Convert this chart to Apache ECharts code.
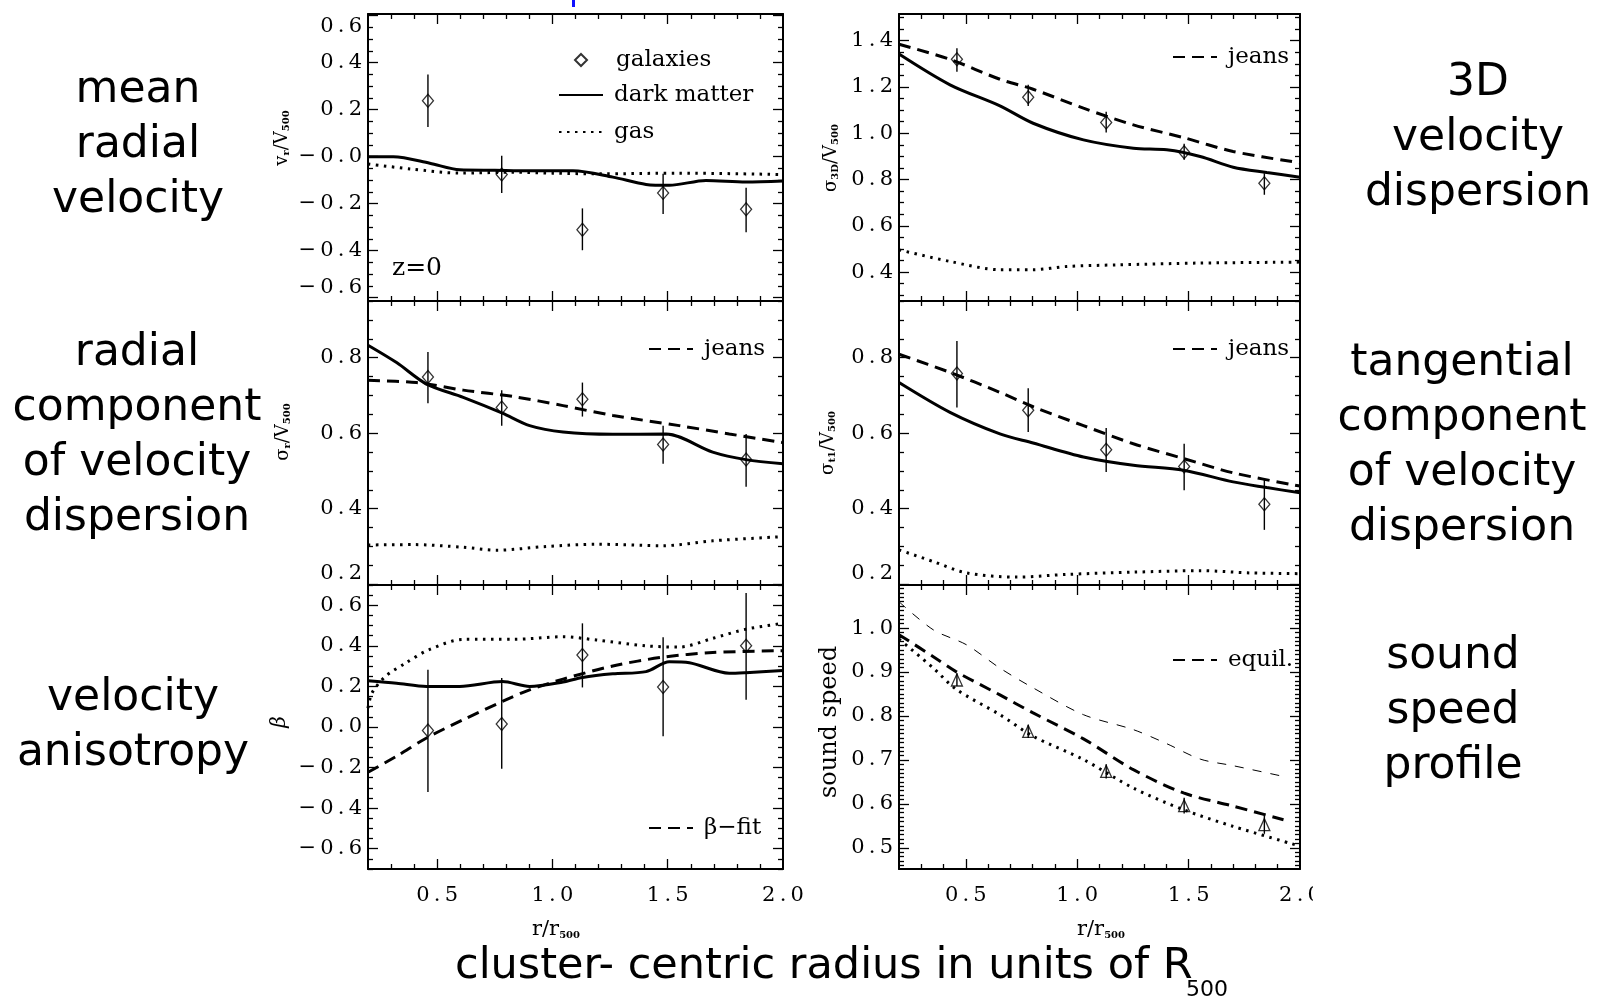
<!DOCTYPE html>
<html><head><meta charset="utf-8">
<script src="https://cdn.jsdelivr.net/npm/echarts@6/dist/echarts.min.js"></script>
<style>html,body{margin:0;padding:0;background:#fff}#c{width:1599px;height:1005px}</style>
</head><body><div id="c"></div>
<script>
// ---------------- DATA ----------------
const xGal = [0.46, 0.78, 1.13, 1.48, 1.84];
const xTickVals = [0.5, 1.0, 1.5, 2.0];
const xTickLabels = ['0.5', '1.0', '1.5', '2.0'];

// mean radial velocity (top-left)
const tlTickVals = [-0.6, -0.4, -0.2, 0, 0.2, 0.4, 0.6];
const tlTickLabels = ['\u22120.6', '\u22120.4', '\u22120.2', '\u22120.0', '0.2', '0.4', '0.6'];
const galVr = [0.238, -0.076, -0.311, -0.154, -0.224];
const galVrLo = [0.126, -0.154, -0.398, -0.244, -0.322];
const galVrHi = [0.35, 0.004, -0.22, -0.073, -0.132];
const dmVrX = [0.2, 0.31, 0.468, 0.598, 0.75, 0.9, 1.089, 1.262, 1.406, 1.507, 1.666, 1.839, 2.0];
const dmVr = [0.0, 0.0, -0.028, -0.056, -0.058, -0.06, -0.06, -0.087, -0.118, -0.122, -0.101, -0.108, -0.104];
const gasVrX = [0.2, 0.383, 0.598, 0.83, 1.0, 1.2, 1.55, 2.0];
const gasVr = [-0.031, -0.052, -0.07, -0.066, -0.07, -0.073, -0.07, -0.076];

// 3D velocity dispersion (top-right)
const trTickVals = [0.4, 0.6, 0.8, 1.0, 1.2, 1.4];
const trTickLabels = ['0.4', '0.6', '0.8', '1.0', '1.2', '1.4'];
const gal3D = [1.319, 1.155, 1.046, 0.918, 0.784];
const gal3DLo = [1.266, 1.118, 1.003, 0.885, 0.734];
const gal3DHi = [1.367, 1.209, 1.093, 0.954, 0.827];
const dm3DX = [0.2, 0.429, 0.653, 0.802, 1.028, 1.252, 1.402, 1.552, 1.70, 1.851, 2.0];
const dm3D = [1.342, 1.209, 1.118, 1.043, 0.971, 0.935, 0.928, 0.899, 0.853, 0.83, 0.81];
const jeans3DX = [0.2, 0.429, 0.653, 0.802, 1.028, 1.252, 1.477, 1.70, 2.0];
const jeans3D = [1.384, 1.319, 1.233, 1.19, 1.108, 1.036, 0.981, 0.921, 0.872];
const gas3DX = [0.2, 0.429, 0.653, 0.802, 0.952, 1.177, 1.552, 2.0];
const gas3D = [0.496, 0.446, 0.41, 0.41, 0.424, 0.431, 0.439, 0.443];

// radial component (middle-left)
const mTickVals = [0.2, 0.4, 0.6, 0.8];
const mTickLabels = ['0.2', '0.4', '0.6', '0.8'];
const galR = [0.749, 0.668, 0.69, 0.57, 0.53];
const galRLo = [0.679, 0.62, 0.644, 0.519, 0.458];
const galRHi = [0.815, 0.714, 0.734, 0.62, 0.598];
const dmRX = [0.2, 0.324, 0.454, 0.613, 0.783, 0.901, 1.046, 1.262, 1.493, 1.695, 1.839, 2.0];
const dmR = [0.833, 0.787, 0.73, 0.695, 0.653, 0.62, 0.603, 0.597, 0.598, 0.55, 0.53, 0.519];
const jeansRX = [0.2, 0.41, 0.613, 0.83, 1.046, 1.262, 1.55, 1.767, 2.0];
const jeansR = [0.74, 0.734, 0.714, 0.697, 0.673, 0.647, 0.62, 0.598, 0.575];
const gasRX = [0.2, 0.395, 0.613, 0.757, 0.973, 1.19, 1.478, 1.695, 2.0];
const gasR = [0.304, 0.305, 0.298, 0.29, 0.3, 0.306, 0.302, 0.315, 0.326];

// tangential component (middle-right)
const galT = [0.758, 0.661, 0.556, 0.512, 0.412];
const galTLo = [0.668, 0.603, 0.497, 0.449, 0.344];
const galTHi = [0.844, 0.719, 0.614, 0.572, 0.48];
const dmTX = [0.2, 0.429, 0.653, 0.802, 1.028, 1.252, 1.477, 1.70, 1.851, 2.0];
const dmT = [0.734, 0.655, 0.598, 0.574, 0.537, 0.515, 0.502, 0.471, 0.456, 0.442];
const jeansTX = [0.2, 0.429, 0.653, 0.802, 1.028, 1.252, 1.477, 1.70, 2.0];
const jeansT = [0.809, 0.761, 0.708, 0.67, 0.62, 0.572, 0.533, 0.495, 0.46];
const gasTX = [0.2, 0.354, 0.503, 0.728, 0.952, 1.252, 1.552, 1.777, 2.0];
const gasT = [0.291, 0.26, 0.23, 0.219, 0.226, 0.232, 0.236, 0.23, 0.228];

// velocity anisotropy (bottom-left)
const blTickVals = [-0.6, -0.4, -0.2, 0, 0.2, 0.4, 0.6];
const blTickLabels = ['\u22120.6', '\u22120.4', '\u22120.2', '0.0', '0.2', '0.4', '0.6'];
const galB = [-0.017, 0.015, 0.355, 0.197, 0.4];
const galBLo = [-0.321, -0.206, 0.195, -0.046, 0.134];
const galBHi = [0.282, 0.241, 0.511, 0.442, 0.661];
const dmBX = [0.2, 0.324, 0.454, 0.598, 0.783, 0.901, 1.046, 1.13, 1.262, 1.406, 1.507, 1.594, 1.767, 1.839, 2.0];
const dmB = [0.228, 0.216, 0.2, 0.2, 0.224, 0.2, 0.222, 0.244, 0.262, 0.273, 0.322, 0.317, 0.265, 0.268, 0.278];
const fitBX = [0.2, 0.324, 0.454, 0.613, 0.783, 0.901, 1.046, 1.262, 1.478, 1.695, 2.0];
const fitB = [-0.223, -0.144, -0.054, 0.036, 0.126, 0.183, 0.236, 0.301, 0.344, 0.367, 0.376];
const gasBX = [0.2, 0.217, 0.275, 0.362, 0.463, 0.613, 0.83, 1.046, 1.19, 1.406, 1.55, 1.695, 1.839, 2.0];
const gasB = [0.093, 0.167, 0.249, 0.314, 0.38, 0.432, 0.432, 0.445, 0.429, 0.4, 0.394, 0.437, 0.482, 0.511];

// sound speed profile (bottom-right)
const brTickVals = [0.5, 0.6, 0.7, 0.8, 0.9, 1.0];
const brTickLabels = ['0.5', '0.6', '0.7', '0.8', '0.9', '1.0'];
const triCs = [0.882, 0.765, 0.674, 0.596, 0.553];
const triCsLo = [0.868, 0.75, 0.658, 0.578, 0.532];
const triCsHi = [0.897, 0.78, 0.69, 0.614, 0.574];
const thinCsX = [0.2, 0.354, 0.503, 0.653, 0.802, 1.028, 1.252, 1.402, 1.552, 1.70, 1.94];
const thinCs = [1.06, 0.996, 0.962, 0.909, 0.864, 0.803, 0.769, 0.737, 0.702, 0.687, 0.661];
const equilX = [0.2, 0.354, 0.456, 0.653, 0.802, 1.028, 1.252, 1.477, 1.70, 1.926];
const equilCs = [0.985, 0.935, 0.901, 0.848, 0.807, 0.748, 0.678, 0.625, 0.595, 0.564];
const dotCsX = [0.2, 0.354, 0.456, 0.653, 0.802, 1.028, 1.252, 1.477, 1.70, 2.0];
const dotCs = [0.975, 0.909, 0.861, 0.803, 0.754, 0.701, 0.636, 0.587, 0.549, 0.504];

// ---------------- BUILD ----------------
const SERIF = 'DejaVu Serif';
const SANS = 'DejaVu Sans';
function steps(a, b, s, exclude) {
  const out = [];
  const n = Math.round((b - a) / s);
  for (let k = 0; k <= n; k++) {
    const v = +(a + k * s).toFixed(4);
    if (!exclude.some(e => Math.abs(e - v) < 1e-6)) out.push(v);
  }
  return out;
}
const xMajor = [0.5, 1.0, 1.5];
const xMinor = steps(0.3, 1.9, 0.1, xMajor);

const panels = [
  {g: [368, 14, 415, 287], y: [-0.614, 0.607], yT: tlTickVals, yL: tlTickLabels, minor: steps(-0.6, 0.6, 0.05, tlTickVals), xLab: false, vMin: 'bottom', vMax: 'top'},
  {g: [899, 14, 401, 287], y: [0.275, 1.515], yT: trTickVals, yL: trTickLabels, minor: steps(0.3, 1.5, 0.05, trTickVals), xLab: false},
  {g: [368, 301, 415, 284], y: [0.198, 0.95], yT: mTickVals, yL: mTickLabels, minor: steps(0.25, 0.95, 0.05, mTickVals), xLab: false, vMin: 'bottom'},
  {g: [899, 301, 401, 284], y: [0.198, 0.95], yT: mTickVals, yL: mTickLabels, minor: steps(0.25, 0.95, 0.05, mTickVals), xLab: false, vMin: 'bottom'},
  {g: [368, 585, 415, 284], y: [-0.7, 0.7], yT: blTickVals, yL: blTickLabels, minor: steps(-0.7, 0.7, 0.05, blTickVals), xLab: true},
  {g: [899, 585, 401, 284], y: [0.452, 1.098], yT: brTickVals, yL: brTickLabels, minor: steps(0.46, 1.09, 0.01, brTickVals), xLab: true}
];

const grids = [], xAxes = [], yAxes = [], series = [];
// wide IDL-like tick labels: thin spaces between glyphs
function spaced(s) { return s.split('').join('\u2009'); }
function labelFmt(vals, labs) {
  return function (v) {
    const k = vals.findIndex(t => Math.abs(t - v) < 1e-6);
    return k >= 0 ? spaced(labs[k]) : '';
  };
}
function mkAxis(list, gi, position, range, ticks, len, line, label) {
  const ax = {
    type: 'value', gridIndex: gi, position: position, min: range[0], max: range[1],
    axisLine: {show: line, onZero: false, lineStyle: {color: '#000', width: 2}},
    axisTick: {show: true, inside: true, length: len, customValues: ticks, lineStyle: {color: '#000', width: 1.3}},
    axisLabel: {show: false},
    splitLine: {show: false}, minorTick: {show: false}, minorSplitLine: {show: false},
    axisPointer: {show: false}
  };
  if (label) ax.axisLabel = Object.assign({show: true, color: '#000', fontFamily: SERIF, fontSize: 21}, label);
  list.push(ax);
  return list.length - 1;
}

const axIdx = [];
panels.forEach((p, i) => {
  grids.push({left: p.g[0], top: p.g[1], width: p.g[2], height: p.g[3], show: false});
  const xr = [0.2, 2.0];
  const xl = p.xLab ? {customValues: xTickVals, formatter: labelFmt(xTickVals, xTickLabels), margin: 16} : null;
  const xi = mkAxis(xAxes, i, 'bottom', xr, xMajor, 10, true, xl);
  mkAxis(xAxes, i, 'bottom', xr, xMinor, 5, false, null);
  mkAxis(xAxes, i, 'top', xr, xMajor, 10, true, null);
  mkAxis(xAxes, i, 'top', xr, xMinor, 5, false, null);
  const yl = {customValues: p.yT, formatter: labelFmt(p.yT, p.yL), margin: 6};
  if (p.vMin) yl.verticalAlignMinLabel = p.vMin;
  if (p.vMax) yl.verticalAlignMaxLabel = p.vMax;
  const yi = mkAxis(yAxes, i, 'left', p.y, p.yT, 10, true, yl);
  mkAxis(yAxes, i, 'left', p.y, p.minor, 5, false, null);
  mkAxis(yAxes, i, 'right', p.y, p.yT, 10, true, null);
  mkAxis(yAxes, i, 'right', p.y, p.minor, 5, false, null);
  axIdx.push({x: xi, y: yi});
});

const SOLID = {color: '#000', width: 3, type: 'solid'};
const DASH = {color: '#000', width: 3, type: [12, 7]};
const DOT = {color: '#000', width: 3, type: [2.5, 5.5]};
const THIN = {color: '#000', width: 1, type: [9, 9]};

function line(name, pi, xs, ys, style, smooth) {
  series.push({
    type: 'line', name: name, xAxisIndex: axIdx[pi].x, yAxisIndex: axIdx[pi].y,
    data: xs.map((x, k) => [x, ys[k]]), showSymbol: false, symbol: 'none',
    itemStyle: {color: '#000'},
    smooth: smooth === undefined ? 0.3 : smooth, lineStyle: style, z: 3, animation: false, silent: true
  });
}
function points(name, pi, xs, ys, lo, hi, symbol, size) {
  series.push({
    type: 'custom', name: name + ' err', xAxisIndex: axIdx[pi].x, yAxisIndex: axIdx[pi].y,
    data: xs.map((x, k) => [x, lo[k], hi[k]]), encode: {x: 0, y: [1, 2]}, z: 4, silent: true,
    renderItem: function (params, api) {
      const a = api.coord([api.value(0), api.value(1)]);
      const b = api.coord([api.value(0), api.value(2)]);
      return {type: 'line', shape: {x1: a[0], y1: a[1], x2: b[0], y2: b[1]}, style: {stroke: '#000', lineWidth: 1.4}};
    }
  });
  series.push({
    type: 'scatter', name: name, xAxisIndex: axIdx[pi].x, yAxisIndex: axIdx[pi].y,
    data: xs.map((x, k) => [x, ys[k]]), symbol: symbol, symbolSize: size, z: 5, silent: true,
    itemStyle: {color: 'rgba(0,0,0,0)', borderColor: '#000', borderWidth: 1.3}
  });
}

// top-left
line('gas', 0, gasVrX, gasVr, DOT);
line('dark matter', 0, dmVrX, dmVr, SOLID);
points('galaxies', 0, xGal, galVr, galVrLo, galVrHi, 'diamond', [11, 13]);
// top-right
line('gas', 1, gas3DX, gas3D, DOT);
line('dark matter', 1, dm3DX, dm3D, SOLID);
line('jeans', 1, jeans3DX, jeans3D, DASH);
points('galaxies', 1, xGal, gal3D, gal3DLo, gal3DHi, 'diamond', [11, 13]);
// middle-left
line('gas', 2, gasRX, gasR, DOT);
line('dark matter', 2, dmRX, dmR, SOLID);
line('jeans', 2, jeansRX, jeansR, DASH);
points('galaxies', 2, xGal, galR, galRLo, galRHi, 'diamond', [11, 13]);
// middle-right
line('gas', 3, gasTX, gasT, DOT);
line('dark matter', 3, dmTX, dmT, SOLID);
line('jeans', 3, jeansTX, jeansT, DASH);
points('galaxies', 3, xGal, galT, galTLo, galTHi, 'diamond', [11, 13]);
// bottom-left
line('gas', 4, gasBX, gasB, DOT);
line('dark matter', 4, dmBX, dmB, SOLID);
line('\u03b2\u2212fit', 4, fitBX, fitB, DASH);
points('galaxies', 4, xGal, galB, galBLo, galBHi, 'diamond', [11, 13]);
// bottom-right
line('thermal', 5, thinCsX, thinCs, THIN);
line('equil.', 5, equilX, equilCs, DASH);
line('gas sound speed', 5, dotCsX, dotCs, DOT);
points('gas points', 5, xGal, triCs, triCsLo, triCsHi, 'triangle', [11, 12]);

const LTXT = {fontFamily: SERIF, fontSize: 23, color: '#000', lineHeight: 24, padding: [0, 0, 0, 6]};
function legend(left, top, names) {
  return {
    left: left, top: top, orient: 'vertical', itemWidth: 44, itemHeight: 12, itemGap: 13,
    selectedMode: false, data: names.map(n => ({name: n, itemStyle: {opacity: 0}})),
    textStyle: LTXT
  };
}
const legends = [
  {left: 569, top: 43, orient: 'vertical', itemWidth: 12, itemHeight: 12, selectedMode: false,
    data: [{name: 'galaxies'}], textStyle: Object.assign({}, LTXT, {padding: [0, 0, 0, 24]})},
  legend(553, 78, ['dark matter', 'gas']),
  legend(1167, 40, ['jeans']),
  legend(643, 332, ['jeans']),
  legend(1167, 332, ['jeans']),
  legend(643, 811, ['\u03b2\u2212fit']),
  legend(1167, 643, ['equil.'])
];

// ---------------- TEXT DECORATION ----------------
function bigText(x, y, text) {
  return {type: 'text', x: x, y: y, z: 10, style: {text: text, fontFamily: SANS, fontSize: 44, lineHeight: 55,
    fill: '#000', align: 'center', verticalAlign: 'middle', textAlign: 'center', textVerticalAlign: 'middle'}};
}
const subRich = {
  m: {fontFamily: SERIF, fontSize: 18, fill: '#000', verticalAlign: 'middle'},
  s: {fontFamily: SERIF, fontSize: 10, fill: '#000', verticalAlign: 'bottom', fontWeight: 'bold'},
  g: {fontFamily: SERIF, fontSize: 20, fill: '#000', fontStyle: 'italic'}
};
function yTitle(x, y, text, size) {
  const rich = JSON.parse(JSON.stringify(subRich));
  if (size) rich.m.fontSize = size;
  return {type: 'text', x: x, y: y, rotation: Math.PI / 2, z: 10, style: {text: text, rich: rich,
    align: 'center', verticalAlign: 'middle', textAlign: 'center', textVerticalAlign: 'middle'}};
}
function xTitle(x, y) {
  return {type: 'text', x: x, y: y, z: 10, style: {text: '{m|r/r}{s|500}', rich: {
    m: {fontFamily: SERIF, fontSize: 21, fill: '#000'}, s: {fontFamily: SERIF, fontSize: 10, fill: '#000', verticalAlign: 'bottom', fontWeight: 'bold'}},
    align: 'center', verticalAlign: 'middle', textAlign: 'center', textVerticalAlign: 'middle'}};
}

const graphics = [
  {type: 'rect', shape: {x: 572, y: 0, width: 3, height: 7}, style: {fill: '#1010ff'}, z: 10},
  bigText(138, 146, 'mean\nradial\nvelocity'),
  bigText(137, 436, 'radial\ncomponent\nof velocity\ndispersion'),
  bigText(133, 726, 'velocity\nanisotropy'),
  bigText(1478, 139, '3D\nvelocity\ndispersion'),
  bigText(1462, 446, 'tangential\ncomponent\nof velocity\ndispersion'),
  bigText(1453, 712, 'sound\nspeed\nprofile'),
  {type: 'text', x: 455, y: 967, z: 10, style: {text: 'cluster- centric radius in units of R', fontFamily: SANS, fontSize: 43,
    fill: '#000', align: 'left', verticalAlign: 'middle', textAlign: 'left', textVerticalAlign: 'middle'}},
  {type: 'text', x: 1186, y: 990, z: 10, style: {text: '500', fontFamily: SANS, fontSize: 22,
    fill: '#000', align: 'left', verticalAlign: 'middle', textAlign: 'left', textVerticalAlign: 'middle'}},
  {type: 'text', x: 392, y: 268, z: 10, style: {text: 'z=0', fontFamily: SERIF, fontSize: 25,
    fill: '#000', align: 'left', verticalAlign: 'middle', textAlign: 'left', textVerticalAlign: 'middle'}},
  yTitle(282, 138, '{m|v}{s|r}{m|/V}{s|500}'),
  yTitle(831, 158, '{m|\u03c3}{s|3D}{m|/V}{s|500}'),
  yTitle(283, 432, '{m|\u03c3}{s|r}{m|/V}{s|500}'),
  yTitle(828, 443, '{m|\u03c3}{s|t1}{m|/V}{s|500}'),
  yTitle(280, 722, '{g|\u03b2}'),
  yTitle(830, 722, '{m|sound speed}', 24),
  xTitle(556, 930),
  xTitle(1101, 930),
  {type: 'rect', shape: {x: 1313, y: 882, width: 30, height: 30}, style: {fill: '#fff'}, z: 20}
];

const chart = echarts.init(document.getElementById('c'), null, {renderer: 'canvas'});
chart.setOption({
  animation: false,
  backgroundColor: '#fff',
  grid: grids,
  xAxis: xAxes,
  yAxis: yAxes,
  legend: legends,
  series: series,
  graphic: {elements: graphics}
});
</script></body></html>
